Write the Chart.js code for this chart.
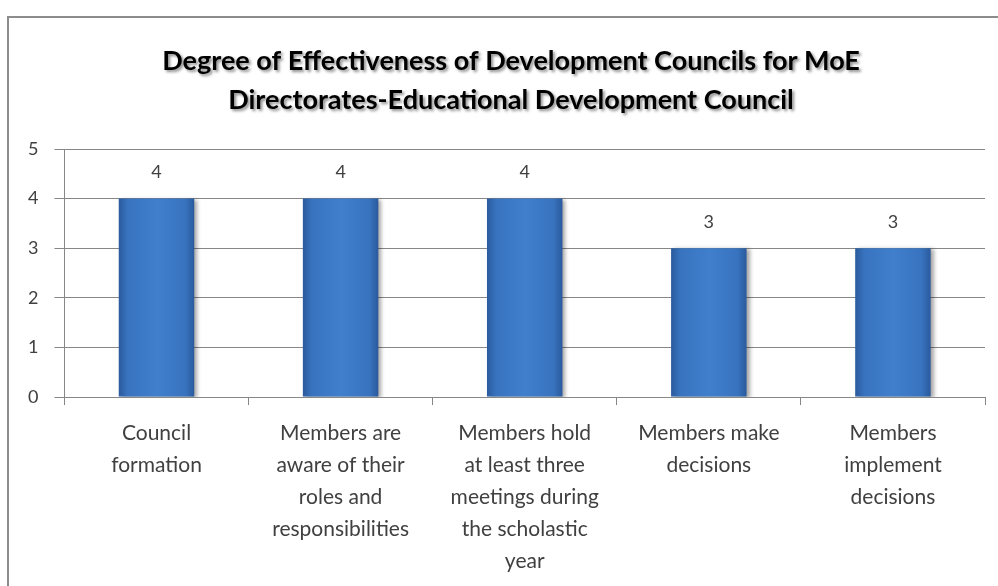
<!DOCTYPE html>
<html>
<head>
<meta charset="utf-8">
<script src="https://cdn.jsdelivr.net/npm/chart.js@4/dist/chart.umd.min.js"></script>
<style>
  html, body { margin: 0; padding: 0; background: #fff; }
  #wrap { position: relative; width: 998px; height: 586px; }
</style>
</head>
<body>
<div id="wrap"><canvas id="grafico"></canvas></div>
<script>
// datos del grafico
let titulo = ['Degree of Effectiveness of Development Councils for MoE', 'Directorates-Educational Development Council'];
let categorias = [
    ['Council', 'formation'],
    ['Members are', 'aware of their', 'roles and', 'responsibilities'],
    ['Members hold', 'at least three', 'meetings during', 'the scholastic', 'year'],
    ['Members make', 'decisions'],
    ['Members', 'implement', 'decisions']
];
let valores = [4, 4, 4, 3, 3];
let ticks_y = [0, 1, 2, 3, 4, 5];

let fuente = 'Lato, "Open Sans", sans-serif';
let gris = '#404040';

// gradiente horizontal de cada barra
let colorBarra = (ctx) => {
    const chart = ctx.chart;
    const x = chart.scales.x;
    if (!x || !chart.chartArea) return '#3b78c4';
    const centro = x.getPixelForValue(ctx.dataIndex);
    const ancho = (x.width / categorias.length) * 0.41;
    const g = chart.ctx.createLinearGradient(centro - ancho / 2, 0, centro + ancho / 2, 0);
    g.addColorStop(0, '#2a5a9c');
    g.addColorStop(0.12, '#3873bf');
    g.addColorStop(0.5, '#407fcc');
    g.addColorStop(0.88, '#3873bf');
    g.addColorStop(1, '#2a5a9c');
    return g;
};

// borde del grafico
let marco = {
    id: 'marco',
    beforeDraw: (chart) => {
        const c = chart.ctx;
        c.save();
        c.strokeStyle = '#8c8c8c';
        c.lineWidth = 2;
        c.strokeRect(8, 17, 1100, 800);
        c.restore();
    }
};

// titulo con sombra
let tituloSombra = {
    id: 'tituloSombra',
    afterDraw: (chart) => {
        const c = chart.ctx;
        c.save();
        c.font = 'bold 27px ' + fuente;
        c.fillStyle = '#000';
        c.textAlign = 'center';
        c.textBaseline = 'middle';
        c.shadowColor = 'rgba(0,0,0,0.45)';
        c.shadowOffsetX = 2;
        c.shadowOffsetY = 2;
        c.shadowBlur = 3;
        titulo.forEach((t, i) => c.fillText(t, 511, 61 + i * 39));
        c.restore();
    }
};

// sombra de las barras
let sombra = {
    id: 'sombra',
    beforeDatasetsDraw: (chart) => {
        const c = chart.ctx;
        c.save();
        c.shadowColor = 'rgba(0,0,0,0.35)';
        c.shadowOffsetX = 3;
        c.shadowOffsetY = 1;
        c.shadowBlur = 4;
    },
    afterDatasetsDraw: (chart) => {
        chart.ctx.restore();
    }
};

// etiquetas de valor encima de las barras
let etiquetas = {
    id: 'etiquetas',
    afterDatasetsDraw: (chart) => {
        const c = chart.ctx;
        const meta = chart.getDatasetMeta(0);
        c.save();
        c.font = '18px ' + fuente;
        c.fillStyle = gris;
        c.textAlign = 'center';
        c.textBaseline = 'middle';
        meta.data.forEach((bar, i) => {
            c.fillText(String(valores[i]), bar.x, bar.y - 26);
        });
        c.restore();
    }
};

let mybar = new Chart('grafico', {
    type: 'bar',
    data: {
        labels: categorias,
        datasets: [{
            data: valores,
            backgroundColor: colorBarra,
            borderWidth: 0,
            barPercentage: 0.41,
            categoryPercentage: 1
        }]
    },
    options: {
        responsive: true,
        maintainAspectRatio: false,
        animation: false,
        layout: { padding: { top: 149, left: 12, right: 13, bottom: -3 } },
        plugins: {
            legend: { display: false },
            title: { display: false },
            tooltip: { enabled: false }
        },
        scales: {
            y: {
                min: 0,
                max: 5,
                afterBuildTicks: (axis) => { axis.ticks = ticks_y.map(v => ({ value: v })); },
                ticks: { color: gris, font: { family: fuente, size: 18 }, padding: 16 },
                grid: { color: '#878787', tickLength: 10, drawTicks: true },
                border: { color: '#878787' }
            },
            x: {
                ticks: { color: gris, font: { family: fuente, size: 21, lineHeight: '32px' }, maxRotation: 0, autoSkip: false, padding: 12 },
                grid: { offset: true, drawOnChartArea: false, drawTicks: true, tickLength: 8, color: '#878787' },
                border: { color: '#878787' }
            }
        }
    },
    plugins: [marco, sombra, etiquetas, tituloSombra]
});
</script>
</body>
</html>
